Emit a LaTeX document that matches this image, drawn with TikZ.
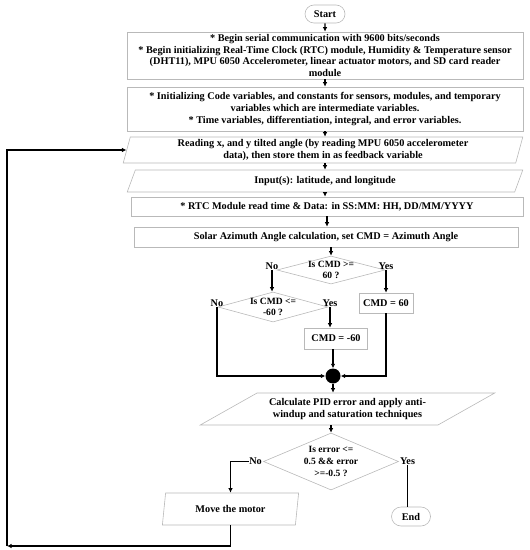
\documentclass[tikz,border=0pt]{standalone}
\usepackage{fontspec}
\setmainfont{Liberation Serif}
\usetikzlibrary{calc,arrows.meta,positioning,shapes.geometric,shapes.misc}

\tikzset{
  box/.style={draw=gray!55, line width=0.6bp, rectangle, align=center, inner sep=1bp},
  io/.style={draw=gray!55, line width=0.6bp, trapezium, trapezium stretches=true,
    align=center, inner sep=1bp},
  decision/.style={draw=gray!55, line width=0.6bp, diamond, inner sep=0pt},
  terminal/.style={draw=gray!55, line width=0.6bp, rounded rectangle, inner sep=1bp},
  lbl/.style={inner sep=0pt, align=center},
  asktxt/.style={lbl, font=\bfseries\fontsize{9.6}{11.8}\selectfont},
  arr/.style={line width=1.4bp, -{Latex[length=4.5bp,width=4.5bp]}},
  flowline/.style={line width=1.4bp},
}

\begin{document}
\begin{tikzpicture}[x=1bp,y=-1bp,
  font=\bfseries\fontsize{10.3}{12}\selectfont]
	\useasboundingbox (0,0) rectangle (530,550);

	%% main column
	\node[terminal, minimum width=42bp, minimum height=18bp] (start) at (325,14) {Start};
	\node[box, minimum width=396bp, minimum height=47bp] (init) at (325,55.5)
	  {* Begin serial communication with 9600 bits/seconds\\
	   * Begin initializing Real-Time Clock (RTC) module, Humidity \& Temperature sensor\\
	   (DHT11), MPU 6050 Accelerometer, linear actuator motors, and SD card reader\\
	   module};
	\node[box, minimum width=396bp, minimum height=44bp] (vars) at (325,109)
	  {* Initializing Code variables, and constants for sensors, modules, and temporary\\
	   variables which are intermediate variables.\\
	   * Time variables, differentiation, integral, and error variables.};
	\node[io, trapezium left angle=77, trapezium right angle=103,
	  minimum width=400bp, minimum height=26bp] (read) at (323,150)
	  {Reading x, and y tilted angle (by reading MPU 6050 accelerometer\\
	   data), then store them in as feedback variable};
	\node[io, trapezium left angle=75, trapezium right angle=105,
	  minimum width=396bp, minimum height=22bp] (input) at (325,181)
	  {Input(s): latitude, and longitude};
	\node[box, minimum width=392bp, minimum height=19bp] (rtc) at (327,206.5)
	  {* RTC Module read time \& Data: in SS:MM: HH, DD/MM/YYYY};
	\node[box, minimum width=384bp, minimum height=20bp] (solar) at (326,237)
	  {Solar Azimuth Angle calculation, set CMD = Azimuth Angle};

	%% limits on CMD
	\node[decision, minimum width=108bp, minimum height=28bp] (d1) at (331,270) {};
	\node[asktxt] (d1txt) at (d1) {Is CMD >=\\60 ?};
	\node[lbl, anchor=south] (d1no) at (272,270) {No};
	\node[lbl, anchor=south] (d1yes) at (386,270) {Yes};

	\node[decision, minimum width=110bp, minimum height=30bp] (d2) at (273,307) {};
	\node[asktxt] (d2txt) at (d2) {Is CMD <=\\-60 ?};
	\node[lbl, anchor=south] (d2no) at (217,307) {No};
	\node[lbl, anchor=south] (d2yes) at (330,307) {Yes};

	\node[box, minimum width=54bp, minimum height=20bp] (cmdhi) at (386,303) {CMD = 60};
	\node[box, minimum width=63bp, minimum height=21bp] (cmdlo) at (336,338.5) {CMD = -60};

	\node[circle, fill=black, minimum size=15bp, inner sep=0pt] (join) at (333,376) {};

	%% PID and error check
	\node[io, trapezium left angle=25, trapezium right angle=155,
	  minimum width=295bp, minimum height=32bp] (pid) at (347.5,409)
	  {Calculate PID error and apply anti-\\windup and saturation techniques};
	\node[decision, minimum width=135bp, minimum height=57bp] (d3) at (331,461.5) {};
	\node[asktxt] (d3txt) at (d3) {Is error <=\\0.5 \&\& error\\>=-0.5 ?};
	\node[lbl, anchor=east] (d3no) at (262,461.5) {No};
	\node[lbl, anchor=west] (d3yes) at (400,461.5) {Yes};

	\node[io, trapezium left angle=79, trapezium right angle=101,
	  minimum width=137bp, minimum height=32bp] (move) at (230.5,509) {Move the motor};
	\node[terminal, minimum width=41bp, minimum height=19bp] (end) at (411,516.5) {End};

	\coordinate (loop) at (7,546);

	%% connectors
	\draw[arr] (start) -- (start |- init.north);
	\draw[arr] (init.south) -- (init.south |- vars.north);
	\draw[arr] (vars.south) -- (vars.south |- read.north);
	\draw[arr] (read.south -| input.north) -- (input.north);
	\draw[arr] (input.south) -- (input.south |- rtc.north);
	\draw[arr] (rtc.south) -- (rtc.south |- solar.north);
	\draw[arr] (solar.south -| d1.north) -- (d1.north);

	\draw[arr] (d1.west -| d1no.south) -- (d1no.south |- d2.north);
	\draw[arr] (d1.east -| d1yes.south) -- (d1yes.south |- cmdhi.north);
	\draw[arr] (d2.east -| d2yes.south) -- (d2yes.south |- cmdlo.north);
	\draw[arr] (d2.west -| d2no.south) |- (join.west);
	\draw[arr] (cmdhi.south) |- (join.east);
	\draw[arr] (cmdlo.south -| join.north) -- (join.north);

	\draw[arr] (join.south) -- (join.south |- pid.north);
	\draw[arr] (pid.south -| d3.north) -- (d3.north);
	\draw[arr] (d3no.west) -| (move.north);
	\draw[flowline] (d3yes.south) -- (d3yes.south |- end.north);

	\draw[arr] (move.south) |- (loop);
	\draw[arr] (loop) |- (read.west);
\end{tikzpicture}
\end{document}
